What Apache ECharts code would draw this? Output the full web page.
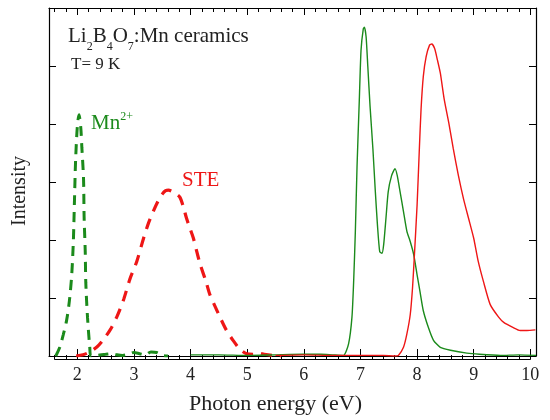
<!DOCTYPE html>
<html>
<head>
<meta charset="utf-8">
<script src="https://cdn.jsdelivr.net/npm/echarts@6/dist/echarts.min.js"></script>
<style>
html,body{margin:0;padding:0;background:#fff;}
#chart{width:550px;height:420px;}
</style>
</head>
<body>
<div id="chart"></div>
<script>
// ---- data ----
// Mn2+ emission (green dashed)
var mnEnergy = [1.62, 1.69, 1.75, 1.81, 1.86, 1.90, 1.93, 1.95, 1.97, 2.00, 2.03, 2.06, 2.08, 2.11, 2.12, 2.14, 2.15, 2.18, 2.22, 2.24, 2.35, 2.5, 2.6, 2.7, 2.8, 2.9, 3.0, 3.1, 3.2, 3.3, 3.4, 3.5, 3.6];
var mnIntensity = [0.0, 0.15, 0.36, 0.61, 0.95, 1.38, 1.98, 2.69, 3.38, 3.95, 4.16, 3.95, 3.6, 3.05, 2.4, 1.8, 1.26, 0.67, 0.15, 0.0, 0.01, 0.03, 0.04, 0.02, 0.01, 0.03, 0.06, 0.04, 0.02, 0.07, 0.06, 0.01, 0.0];
// STE emission (red dashed)
var steEnergy = [1.98, 2.1, 2.22, 2.35, 2.45, 2.58, 2.7, 2.82, 2.93, 3.05, 3.17, 3.26, 3.34, 3.42, 3.5, 3.56, 3.61, 3.67, 3.74, 3.81, 3.87, 3.93, 3.99, 4.05, 4.11, 4.17, 4.27, 4.34, 4.43, 4.52, 4.63, 4.75, 4.87, 4.99, 5.1, 5.2, 5.3, 5.45, 5.6];
var steIntensity = [0.0, 0.02, 0.07, 0.16, 0.27, 0.45, 0.68, 0.98, 1.33, 1.63, 2.03, 2.3, 2.49, 2.66, 2.79, 2.85, 2.86, 2.84, 2.8, 2.74, 2.58, 2.37, 2.2, 2.03, 1.8, 1.58, 1.29, 1.06, 0.86, 0.67, 0.45, 0.27, 0.12, 0.04, 0.03, 0.05, 0.03, 0.01, 0.0];
// excitation of Mn2+ emission (green solid)
var excMnEnergy = [4.0, 4.5, 5.0, 5.5, 6.0, 6.3, 6.5, 6.7, 6.79, 6.85, 6.88, 6.91, 6.94, 6.98, 7.01, 7.05, 7.07, 7.1, 7.13, 7.17, 7.22, 7.26, 7.3, 7.34, 7.38, 7.41, 7.45, 7.49, 7.55, 7.61, 7.65, 7.7, 7.76, 7.82, 7.88, 7.94, 8.0, 8.05, 8.11, 8.2, 8.29, 8.41, 8.59, 8.88, 9.1, 9.47, 9.8, 10.1];
var excMnIntensity = [0.02, 0.02, 0.01, 0.02, 0.03, 0.03, 0.02, 0.01, 0.21, 0.67, 1.29, 2.15, 3.28, 4.42, 5.27, 5.64, 5.67, 5.5, 4.99, 4.3, 3.57, 2.88, 2.26, 1.8, 1.77, 1.92, 2.37, 2.83, 3.11, 3.23, 3.11, 2.83, 2.49, 2.15, 1.97, 1.75, 1.4, 1.12, 0.78, 0.49, 0.27, 0.15, 0.1, 0.05, 0.03, 0.01, 0.02, 0.01];
// excitation of STE emission (red solid)
var excSteEnergy = [5.5, 6.0, 6.5, 7.0, 7.4, 7.61, 7.67, 7.76, 7.82, 7.88, 7.92, 7.95, 8.0, 8.04, 8.07, 8.11, 8.16, 8.22, 8.26, 8.31, 8.36, 8.41, 8.48, 8.56, 8.64, 8.73, 8.82, 8.91, 9.0, 9.08, 9.17, 9.29, 9.44, 9.53, 9.7, 9.82, 9.94, 10.09];
var excSteIntensity = [0.01, 0.02, 0.01, 0.01, 0.01, 0.0, 0.01, 0.15, 0.38, 0.72, 1.18, 1.69, 2.6, 3.57, 4.25, 4.82, 5.16, 5.36, 5.38, 5.3, 5.1, 4.88, 4.42, 4.02, 3.57, 3.11, 2.71, 2.37, 2.03, 1.63, 1.29, 0.89, 0.67, 0.58, 0.49, 0.44, 0.44, 0.45];

var xTickLabels = ['2', '3', '4', '5', '6', '7', '8', '9', '10'];
var yName = 'Intensity';
var xName = 'Photon energy (eV)';

function pairs(xs, ys) { return xs.map(function (x, i) { return [x, ys[i]]; }); }

var GREEN = '#1b8a1b';
var RED = '#ee1616';
var FONT = '"Liberation Serif", "Times New Roman", serif';
var TXT = '#222';

// plot frame geometry
var X_MIN = 1.5, X_MAX = 10.1;
var G_LEFT = 49, G_RIGHT = 14, G_TOP = 8, G_BOTTOM = 61, W = 550;
var pxPerUnit = (W - G_LEFT - G_RIGHT) / (X_MAX - X_MIN);
var MINOR_MIN = 1.6, MINOR_MAX = 10.0;

var chart = echarts.init(document.getElementById('chart'), null, { renderer: 'canvas' });

function majorX(pos, withLabels) {
  return {
    gridIndex: 0, type: 'value', position: pos, min: X_MIN, max: X_MAX,
    splitNumber: 9, minInterval: 1, maxInterval: 1,
    axisLine: { show: true, onZero: false, lineStyle: { color: '#000', width: 1.2 } },
    axisTick: { show: true, inside: true, length: 7, lineStyle: { color: '#000', width: 1 } },
    axisLabel: {
      show: withLabels, margin: 10, color: TXT, fontFamily: FONT, fontSize: 18,
      formatter: function (v) {
        var r = Math.round(v);
        if (Math.abs(v - r) > 1e-6) return '';
        var s = String(r);
        return xTickLabels.indexOf(s) >= 0 ? s : '';
      }
    },
    splitLine: { show: false },
    name: withLabels ? xName : '', nameLocation: 'middle', nameGap: 37,
    nameTextStyle: { color: TXT, fontFamily: FONT, fontSize: 22, padding: [0, 34, 0, 0] }
  };
}
function minorX(pos) {
  return {
    gridIndex: 1, type: 'value', position: pos, min: MINOR_MIN, max: MINOR_MAX, interval: 0.2,
    axisLine: { show: true, onZero: false, lineStyle: { color: '#000', width: 1.2 } },
    axisTick: { show: true, inside: true, length: 4, lineStyle: { color: '#000', width: 1 } },
    axisLabel: { show: false }, splitLine: { show: false }
  };
}

function yAxisDef(pos, named) {
  return {
    gridIndex: 0, type: 'value', position: pos, min: 0, max: 6, interval: 1,
    axisLine: { show: true, onZero: false, lineStyle: { color: '#000', width: 1.2 } },
    axisTick: { show: true, inside: true, length: 7, lineStyle: { color: '#000', width: 1 } },
    axisLabel: { show: false },
    splitLine: { show: false },
    name: named ? yName : '', nameLocation: 'middle', nameGap: 19,
    nameTextStyle: { color: TXT, fontFamily: FONT, fontSize: 20, padding: [0, 18, 0, 0] }
  };
}

var option = {
  backgroundColor: '#fff',
  animation: false,
  grid: [
    { left: G_LEFT, right: G_RIGHT, top: G_TOP, bottom: G_BOTTOM, containLabel: false },
    { left: G_LEFT + (MINOR_MIN - X_MIN) * pxPerUnit, right: G_RIGHT + (X_MAX - MINOR_MAX) * pxPerUnit,
      top: G_TOP, bottom: G_BOTTOM, containLabel: false }
  ],
  xAxis: [majorX('bottom', true), majorX('top', false), minorX('bottom'), minorX('top')],
  yAxis: [yAxisDef('left', true), yAxisDef('right', false),
          { gridIndex: 1, type: 'value', min: 0, max: 6, show: false }],
  series: [
    { type: 'line', name: 'Mn2+', data: pairs(mnEnergy, mnIntensity), showSymbol: false, smooth: 0.3,
      lineStyle: { color: GREEN, width: 3, type: [10, 7] }, xAxisIndex: 0, yAxisIndex: 0, z: 3 },
    { type: 'line', name: 'STE', data: pairs(steEnergy, steIntensity), showSymbol: false, smooth: 0.3,
      lineStyle: { color: RED, width: 3.2, type: [11, 8] }, xAxisIndex: 0, yAxisIndex: 0, z: 3 },
    { type: 'line', name: 'excMn', data: pairs(excMnEnergy, excMnIntensity), showSymbol: false, smooth: 0.2,
      lineStyle: { color: GREEN, width: 1.4 }, xAxisIndex: 0, yAxisIndex: 0, z: 4 },
    { type: 'line', name: 'excSTE', data: pairs(excSteEnergy, excSteIntensity), showSymbol: false, smooth: 0.2,
      lineStyle: { color: RED, width: 1.4 }, xAxisIndex: 0, yAxisIndex: 0, z: 5 }
  ],
  graphic: [
    { type: 'text', left: 68, top: 26, style: {
        text: '{n|Li}{s|2}{n|B}{s|4}{n|O}{s|7}{n|:Mn ceramics}',
        rich: {
          n: { fontSize: 21, fontFamily: FONT, fill: TXT },
          s: { fontSize: 12, fontFamily: FONT, fill: TXT, padding: [20, 0, 0, 0] }
        } } },
    { type: 'text', left: 71, top: 56, style: { text: 'T= 9 K', fontSize: 17, fontFamily: FONT, fill: TXT } },
    { type: 'text', left: 91, top: 111, style: {
        text: '{n|Mn}{p|2+}',
        rich: {
          n: { fontSize: 21, fontFamily: FONT, fill: GREEN },
          p: { fontSize: 12, fontFamily: FONT, fill: GREEN, padding: [0, 0, 12, 0] }
        } } },
    { type: 'text', left: 182, top: 170, style: { text: 'STE', fontSize: 21, fontFamily: FONT, fill: RED } }
  ]
};
chart.setOption(option);
</script>
</body>
</html>
